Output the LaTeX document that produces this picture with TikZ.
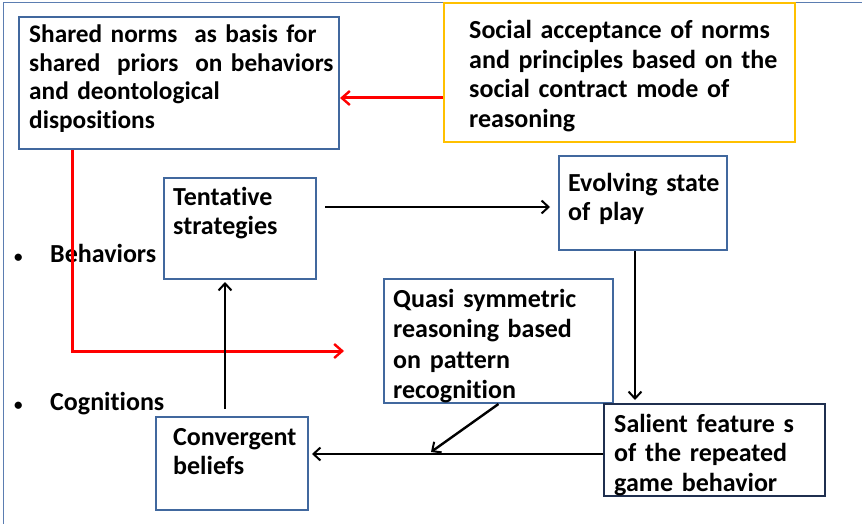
\documentclass[tikz,border=0pt]{standalone}
\usepackage{fontspec}
\setmainfont{Carlito}[RawFeature={-liga}]
\usetikzlibrary{arrows.meta,calc}
\definecolor{boxblue}{HTML}{41689E}
\definecolor{navy}{HTML}{1F2F4F}
\definecolor{gold}{HTML}{FFC000}
\definecolor{framec}{HTML}{5B7DB1}
\begin{document}
\begin{tikzpicture}[x=1pt,y=-1pt,
  box/.style={draw=boxblue,line width=2pt,inner sep=0pt,anchor=north west},
  txt/.style={anchor=base west,inner sep=0pt,text width=420pt,align=left,
    font=\fontsize{26}{29.5}\selectfont\bfseries},
  bul/.style={anchor=base west,inner sep=0pt,font=\fontsize{17}{17}\selectfont\bfseries},
  blk/.style={draw=black,line width=2.4pt,-{Straight Barb[length=7pt,width=13pt,line width=2pt]}},
  red/.style={draw=red,line width=3pt,-{Straight Barb[length=8pt,width=14pt,line width=2.4pt]}}]
\useasboundingbox (0,0) rectangle (862,524);
\draw[framec,line width=1pt] (3,524) -- (3,2.5) -- (862,2.5);
% boxes
\node[box,minimum width=320pt,minimum height=132pt] (sh) at (18,16) {};
\node[box,draw=gold,minimum width=351pt,minimum height=139pt] (so) at (443,2) {};
\node[box,minimum width=152pt,minimum height=101pt] (te) at (163,177) {};
\node[box,minimum width=168pt,minimum height=94pt] (ev) at (558,155) {};
\node[box,minimum width=229pt,minimum height=124pt] (qu) at (383,278) {};
\node[box,draw=navy,minimum width=221pt,minimum height=92pt] (sa) at (603,403) {};
\node[box,minimum width=152pt,minimum height=93pt] (co) at (155,416) {};
% texts
\node[txt,font=\fontsize{25.3}{28.4}\selectfont\bfseries] (shT) at (29,43) {Shared norms\ \ as basis for\\shared\ \ priors\ \ on behaviors\\and deontological\\dispositions};
\node[txt] (soT) at (469,39) {Social acceptance of norms\\and principles based on the\\social contract mode of\\reasoning};
\node[txt] (teT) at (173,205) {Tentative\\strategies};
\node[txt] (evT) at (568,191) {Evolving state\\of play};
\node[txt,font=\fontsize{26}{30.6}\selectfont\bfseries] (quT) at (393,307) {Quasi symmetric\\reasoning based\\on pattern\\recognition};
\node[txt] (saT) at (614,432) {Salient feature s\\of the repeated\\game behavior};
\node[txt] (coT) at (173,445) {Convergent\\beliefs};
\node[bul] (b1) at (14,262) {\textbullet};
\node[txt] (be) at (50,262) {Behaviors};
\node[bul] (b2) at (14,410) {\textbullet};
\node[txt] (cg) at (50,410) {Cognitions};
% red connectors
\coordinate (soR) at ($(so.west)+(0,25.5)$);
\draw[red] (soR) -- (sh.east |- soR);
\coordinate (shR) at ($(sh.south west)+(54,0)$);
\coordinate (redend) at (344,351);
\draw[red] (shR) |- (redend);
% black connectors
\coordinate (evin) at ($(ev.west)+(0,4)$);
\draw[blk,shorten <=8pt,shorten >=8pt] (te.east |- evin) -- (evin);
\coordinate (evout) at ($(ev.south)+(-8,0)$);
\draw[blk,shorten >=3pt] (evout) -- (evout |- sa.north);
\coordinate (sain) at ($(sa.west)+(0,4)$);
\draw[blk,shorten >=3pt] (sain) -- (co.east |- sain);
\coordinate (qend) at (431,452);
\draw[blk] (qu.south) -- (qend);
\coordinate (coout) at ($(co.north)+(-7,-7)$);
\draw[blk,shorten >=2pt] (coout) -- (coout |- te.south);
\end{tikzpicture}
\end{document}
